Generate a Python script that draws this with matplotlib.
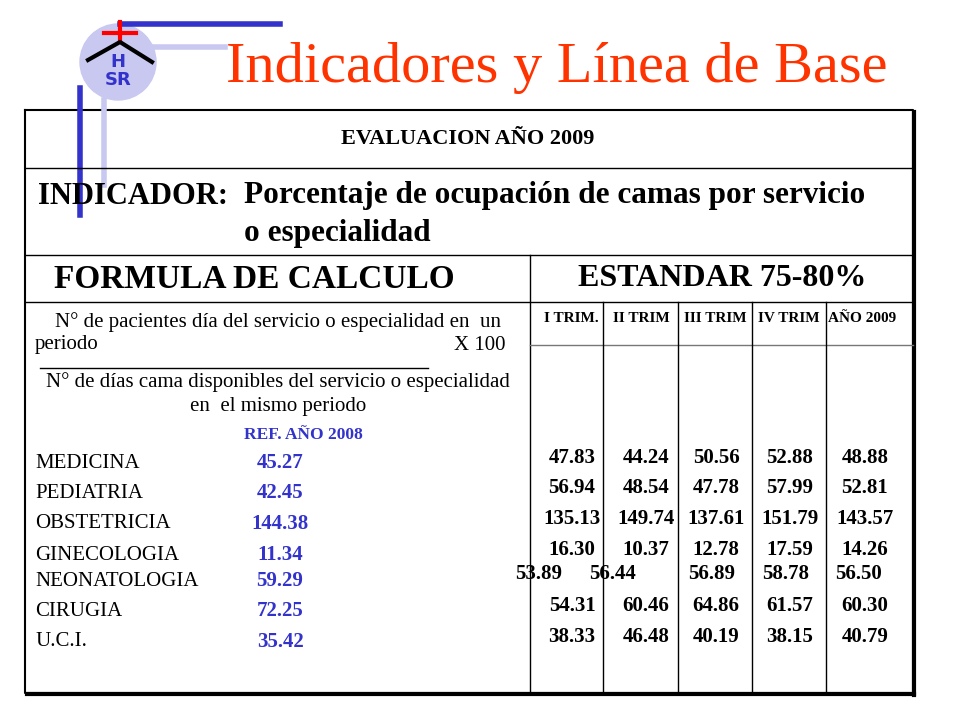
import matplotlib.pyplot as plt
from matplotlib.patches import Circle

servicios = ['MEDICINA', 'PEDIATRIA', 'OBSTETRICIA', 'GINECOLOGIA', 'NEONATOLOGIA', 'CIRUGIA', 'U.C.I.']
ref_2008 = ['45.27', '42.45', '144.38', '11.34', '59.29', '72.25', '35.42']
trimestres = ['I TRIM.', 'II TRIM', 'III TRIM', 'IV TRIM', 'AÑO 2009']
valores = [
    ['47.83', '44.24', '50.56', '52.88', '48.88'],
    ['56.94', '48.54', '47.78', '57.99', '52.81'],
    ['135.13', '149.74', '137.61', '151.79', '143.57'],
    ['16.30', '10.37', '12.78', '17.59', '14.26'],
    ['53.89', '56.44', '56.89', '58.78', '56.50'],
    ['54.31', '60.46', '64.86', '61.57', '60.30'],
    ['38.33', '46.48', '40.19', '38.15', '40.79'],
]

SERIF = 'Liberation Serif'
BLUE = '#3333cc'

fig = plt.figure(figsize=(9.6, 7.2), dpi=100)
ax = fig.add_axes([0, 0, 1, 1])
ax.set_xlim(0, 960)
ax.set_ylim(720, 0)
ax.axis('off')

# logo
ax.add_patch(Circle((118, 62), 38, color='#c8c8f0', zorder=1))
ax.plot([120, 280], [24, 24], color=BLUE, lw=4, zorder=2)
ax.plot([150, 225], [47, 47], color='#c8c8f0', lw=4, zorder=2)
ax.plot([80, 80], [88, 215], color=BLUE, lw=4, zorder=2)
ax.plot([104, 104], [100, 185], color='#c8c8f0', lw=4, zorder=2)
ax.plot([104, 136], [33, 33], color='red', lw=3, zorder=3)
ax.plot([120, 120], [22, 42], color='red', lw=3, zorder=3)
ax.plot([88, 120, 152], [60, 42, 62], color='black', lw=3, zorder=3)
ax.text(118, 62, 'H', ha='center', va='center', fontsize=13, fontweight='bold', color=BLUE, zorder=3)
ax.text(118, 80, 'SR', ha='center', va='center', fontsize=13, fontweight='bold', color=BLUE, zorder=3)

ax.text(557, 68, 'Indicadores y Línea de Base', ha='center', va='center',
        fontsize=42, color='#ff3300', family=SERIF)

# table frame
L, R, T, B = 25, 913, 110, 693
ax.plot([L, R, R, L, L], [T, T, B, B, T], color='black', lw=1.5, zorder=0)
ax.plot([R + 1, R + 1], [T + 2, B + 2], color='black', lw=3, zorder=0)
ax.plot([L + 2, R + 1], [B + 1, B + 1], color='black', lw=3, zorder=0)
for y in [168, 255, 302]:
    ax.plot([L, R], [y, y], color='black', lw=1)
ax.plot([530, 530], [255, B], color='black', lw=1)
ax.plot([530, R], [345, 345], color='#777777', lw=1)
for x in [603, 678, 752, 826]:
    ax.plot([x, x], [302, B], color='black', lw=1)

ax.text(468, 139, 'EVALUACION AÑO 2009', ha='center', va='center', fontsize=16,
        fontweight='bold', family=SERIF)
ax.text(38, 196, 'INDICADOR:', ha='left', va='center', fontsize=22, fontweight='bold', family=SERIF)
ax.text(244, 196, 'Porcentaje de ocupación de camas por servicio', ha='left', va='center',
        fontsize=22.5, fontweight='bold', family=SERIF)
ax.text(244, 234, 'o especialidad', ha='left', va='center', fontsize=22.5, fontweight='bold', family=SERIF)
ax.text(254, 279, 'FORMULA DE CALCULO', ha='center', va='center', fontsize=24, fontweight='bold', family=SERIF)
ax.text(722, 279, 'ESTANDAR 75-80%', ha='center', va='center', fontsize=23, fontweight='bold', family=SERIF)

ax.text(278, 322, 'N° de pacientes día del servicio o especialidad en  un', ha='center', va='center',
        fontsize=15, family=SERIF)
ax.text(35, 345, 'periodo', ha='left', va='center', fontsize=15, family=SERIF)
ax.text(505, 345, 'X 100', ha='right', va='center', fontsize=15, family=SERIF)
ax.plot([40, 428], [368, 368], color='black', lw=1)
ax.text(278, 382, 'N° de días cama disponibles del servicio o especialidad', ha='center', va='center',
        fontsize=15, family=SERIF)
ax.text(278, 407, 'en  el mismo periodo', ha='center', va='center', fontsize=15, family=SERIF)
ax.text(303, 435, 'REF. AÑO 2008', ha='center', va='center', fontsize=12.5, fontweight='bold',
        color=BLUE, family=SERIF)

row_y = [458, 488, 519, 550, 574, 606, 637]
col_x = [572, 646, 716, 790, 865]
neo_dx = [-33, -33, -4, -4, -6]
for i, name in enumerate(servicios):
    y = row_y[i] + (7 if i == 4 else 5)
    ax.text(35, y, name, ha='left', va='center', fontsize=15, family=SERIF)
    ax.text(280, y, ref_2008[i], ha='center', va='center', fontsize=15, fontweight='bold',
            color=BLUE, family=SERIF)
    for j, v in enumerate(valores[i]):
        dx = neo_dx[j] if i == 4 else 0
        ax.text(col_x[j] + dx, row_y[i], v, ha='center', va='center', fontsize=15,
                fontweight='bold', family=SERIF)

hdr_x = [571, 641, 715, 789, 862]
for j, t in enumerate(trimestres):
    ax.text(hdr_x[j], 318, t, ha='center', va='center', fontsize=11, fontweight='bold', family=SERIF)

fig.savefig('out.png', dpi=100)
